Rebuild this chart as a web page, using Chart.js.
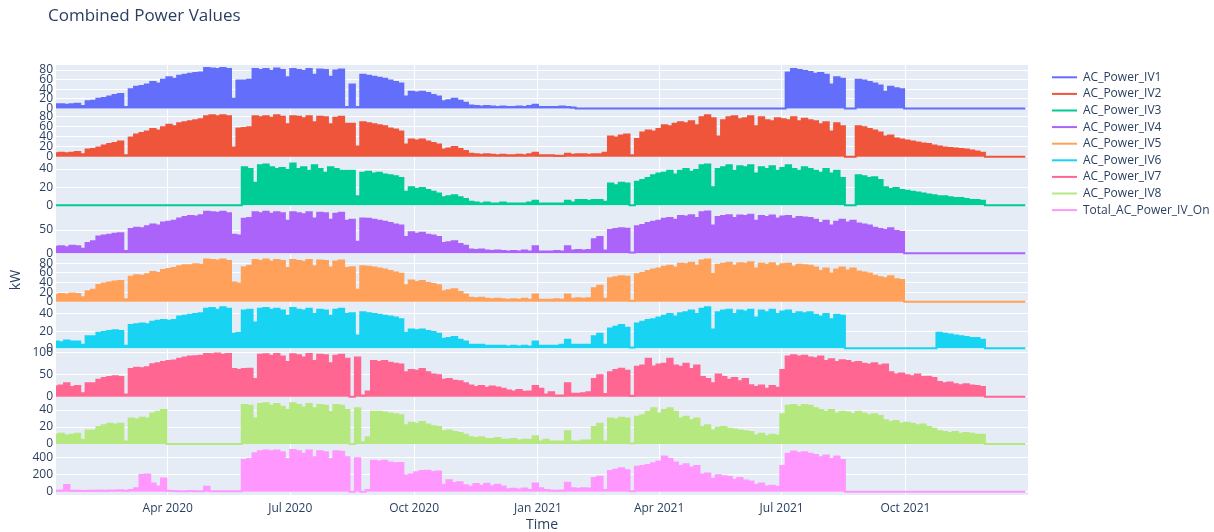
<!DOCTYPE html>
<html>
<head>
<meta charset="utf-8">
<script src="https://cdn.jsdelivr.net/npm/chart.js@4.4.1/dist/chart.umd.min.js"></script>
<style>
  html, body { margin: 0; padding: 0; background: #ffffff; }
  #wrap { width: 1214px; height: 532px; position: relative; }
</style>
</head>
<body>
<div id="wrap"><canvas id="c" width="1214" height="532"></canvas></div>
<script>
// Daily peak power readings, one sample every 4 days starting 2020-01-09
const startDate = Date.UTC(2020, 0, 9);
const stepDays = 4;

const seriesNames = [
  'AC_Power_IV1', 'AC_Power_IV2', 'AC_Power_IV3', 'AC_Power_IV4', 'AC_Power_IV5',
  'AC_Power_IV6', 'AC_Power_IV7', 'AC_Power_IV8', 'Total_AC_Power_IV_On'
];

const acPowerIV1 = [9,9,8,9,10,5,15,16,20,22,
25,28,30,3,40,45,47,50,55,52,
60,65,62,68,70,72,74,75,84,83,
82,84,82,20,58,58,60,82,80,82,
78,83,80,65,82,80,78,82,70,81,
80,66,79,81,3,50,3,70,68,66,
64,62,58,55,52,25,35,33,35,32,
28,25,15,17,20,16,12,6,5,4,
5,4,3,4,3,3,4,3,5,8,
3,3,3,3,4,3,2,0,0,0,
0,0,0,0,0,0,0,0,0,0,
0,0,0,0,0,0,0,0,0,0,
0,0,0,0,0,0,0,0,0,0,
0,0,0,0,0,0,75,82,80,78,
76,72,74,70,50,65,62,0,0,60,
58,55,52,48,35,45,42,40,0,0,
0,0,0,0,0,0,0,0,0,0,
0,0,0,0,0,0,0,0,0,0,
0];

const acPowerIV2 = [7,8,7,8,9,5,14,15,18,22,
25,27,30,3,38,44,47,50,55,52,
58,63,60,66,68,70,72,74,80,82,
80,82,80,18,56,57,58,80,78,80,
77,82,79,64,80,79,76,80,68,79,
78,64,77,79,65,65,20,68,66,64,
62,60,56,54,50,24,34,32,34,30,
27,24,14,16,19,15,11,6,5,4,
5,4,3,4,3,3,4,3,5,8,
3,3,3,2,2,6,4,5,5,4,
5,5,8,40,38,42,44,3,35,48,
52,50,55,62,60,65,68,66,70,62,
78,82,76,40,72,78,80,74,76,80,
60,78,72,70,76,74,72,78,70,75,
72,70,64,68,50,66,60,0,0,60,
58,55,52,48,40,42,36,34,32,30,
28,26,25,22,20,18,17,16,15,14,
12,10,8,0,0,0,0,0,0,0,
0];

const acPowerIV3 = [0,0,0,0,0,0,0,0,0,0,
0,0,0,0,0,0,0,0,0,0,
0,0,0,0,0,0,0,0,0,0,
0,0,0,0,0,42,40,25,44,45,
42,40,41,39,46,40,42,38,44,40,
36,42,40,38,38,38,10,36,37,35,
36,34,33,32,30,15,20,18,19,17,
15,13,9,10,11,9,7,4,3,2,
3,2,2,3,2,2,2,2,3,5,
2,2,2,2,2,5,3,6,6,5,
6,6,4,24,22,25,24,0,26,28,
30,33,35,36,38,34,38,40,37,39,
44,45,20,40,42,44,38,43,42,44,
35,42,40,43,38,41,44,40,38,42,
40,38,36,40,35,38,30,0,0,33,
32,30,31,28,20,18,19,17,16,15,
14,13,12,11,10,10,9,8,8,7,
6,6,5,0,0,0,0,0,0,0,
0];

const acPowerIV4 = [14,15,13,16,15,10,22,26,36,38,
40,42,43,5,52,55,54,58,62,60,
66,68,70,75,78,80,79,82,89,88,
87,89,86,40,38,74,76,88,86,89,
85,88,86,70,88,86,84,88,75,87,
86,72,85,87,70,72,25,75,74,72,
70,68,65,62,60,35,45,42,44,40,
38,35,22,24,26,20,16,8,7,8,
6,5,6,5,4,5,4,6,4,15,
4,4,4,5,4,15,6,7,6,7,
30,35,6,50,52,54,53,2,58,61,
65,68,70,74,76,72,80,79,82,76,
88,90,60,78,80,82,76,81,80,83,
70,80,78,81,75,79,80,74,78,77,
76,72,65,70,60,68,72,66,70,64,
62,60,55,52,50,54,48,46,0,0,
0,0,0,0,0,0,0,0,0,0,
0,0,0,0,0,0,0,0,0,0,
0];

const acPowerIV5 = [14,16,15,17,16,9,22,25,35,38,
40,42,43,5,52,55,54,57,62,60,
66,68,70,74,76,76,78,77,88,87,
86,88,85,40,38,72,75,87,85,88,
84,87,85,70,87,85,83,87,74,86,
85,71,84,86,70,72,25,74,73,71,
69,67,64,61,58,34,44,41,43,39,
37,34,22,24,26,20,15,8,7,8,
6,5,6,5,4,5,4,6,4,15,
4,4,4,5,4,15,6,7,6,7,
28,33,6,49,51,53,52,2,57,60,
64,67,69,73,75,71,79,78,81,75,
86,88,58,77,79,81,75,80,79,82,
69,79,77,80,74,78,79,73,77,76,
75,71,64,69,59,67,71,65,69,63,
61,59,54,51,49,53,47,45,0,0,
0,0,0,0,0,0,0,0,0,0,
0,0,0,0,0,0,0,0,0,0,
0];

const acPowerIV6 = [8,7,9,8,8,4,14,14,18,19,
20,21,20,3,27,28,29,28,31,32,
33,32,33,37,38,39,40,41,46,47,
45,48,46,17,18,44,45,30,46,47,
45,46,44,38,47,45,44,46,40,45,
44,38,45,46,40,41,15,42,41,40,
39,38,37,36,34,18,22,21,22,20,
19,17,11,12,13,10,8,4,4,4,
3,3,3,3,2,3,2,3,2,8,
3,3,3,3,4,10,4,4,4,4,
14,17,4,23,25,27,24,1,29,31,
33,34,36,38,40,37,41,42,44,40,
46,48,22,42,44,45,40,44,43,45,
36,44,42,45,40,43,44,40,42,41,
42,39,37,40,34,39,38,0,0,0,
0,0,0,0,0,0,0,0,0,0,
0,0,0,0,18,17,16,15,14,13,
12,12,10,0,0,0,0,0,0,0,
0];

const acPowerIV7 = [23,25,30,22,24,8,30,30,38,42,
44,46,44,5,62,65,64,66,73,75,
78,80,81,85,88,90,91,92,96,95,
97,94,96,62,60,62,63,40,94,95,
92,96,90,78,95,93,88,96,80,94,
93,75,92,94,85,0,88,3,12,80,
78,80,76,74,72,55,60,58,62,55,
50,48,38,40,36,35,30,25,22,24,
20,23,21,18,14,12,15,11,12,24,
18,5,10,3,3,30,7,7,8,10,
40,48,6,55,60,63,58,2,67,70,
85,68,72,74,85,70,67,74,62,70,
44,40,30,50,44,38,42,35,40,26,
22,25,18,24,20,60,90,93,90,92,
88,86,90,80,84,78,82,80,76,78,
74,72,75,70,72,55,50,52,48,46,
50,44,45,42,33,30,32,28,26,28,
25,24,22,0,0,0,0,0,0,0,
0];

const acPowerIV8 = [11,12,10,11,12,5,16,16,20,22,
24,23,24,3,30,29,31,30,36,38,
40,0,0,0,0,0,0,0,0,0,
0,0,0,0,0,46,45,30,47,48,
45,47,44,40,48,46,43,47,42,46,
45,38,46,45,40,0,42,2,8,38,
38,37,36,35,34,22,25,24,26,23,
21,20,15,16,14,13,11,8,7,8,
6,6,7,5,5,6,4,5,5,9,
3,5,3,3,3,15,3,3,4,4,
20,24,3,30,29,31,30,1,32,34,
38,42,36,40,42,38,30,32,28,30,
20,22,16,19,20,18,17,16,15,14,
10,12,9,11,10,35,45,46,44,46,
45,42,40,38,40,36,38,37,35,38,
36,34,35,33,28,26,27,24,25,24,
22,23,20,18,15,14,13,14,12,13,
12,11,11,0,0,0,0,0,0,0,
0];

const totalACPowerIVOn = [12,15,78,10,12,8,10,10,15,12,
14,15,18,10,20,40,194,200,97,60,
155,10,8,7,6,8,6,5,58,6,
7,6,5,6,5,369,380,447,470,480,
470,480,460,380,485,470,440,480,400,470,
460,380,470,465,400,0,388,0,20,360,
350,360,340,330,335,189,200,226,240,245,
230,235,80,132,100,110,75,57,90,70,
94,65,80,60,30,35,25,38,20,97,
39,20,15,12,14,105,39,35,40,38,
160,175,20,240,255,272,250,5,290,300,
310,330,350,408,380,340,300,320,280,300,
200,213,150,190,180,170,140,160,130,120,
80,97,60,70,58,300,440,466,450,460,
440,427,400,420,380,410,370,0,0,0,
0,0,0,0,0,0,0,0,0,0,
0,0,0,0,0,0,0,0,0,0,
0,0,0,0,0,0,0,0,0,0,
0];

// Quarter ticks on the shared time axis
const tickLabels = ['Apr 2020', 'Jul 2020', 'Oct 2020', 'Jan 2021', 'Apr 2021', 'Jul 2021', 'Oct 2021'];
const tickDates = [[2020, 3], [2020, 6], [2020, 9], [2021, 0], [2021, 3], [2021, 6], [2021, 9]];

// Value ticks per subplot row
const rowTickSteps = [20, 20, 20, 50, 20, 20, 50, 20, 200];

const seriesValues = [acPowerIV1, acPowerIV2, acPowerIV3, acPowerIV4, acPowerIV5,
                      acPowerIV6, acPowerIV7, acPowerIV8, totalACPowerIVOn];

// ---- styling / layout ----
const palette = ['#636EFA', '#EF553B', '#00CC96', '#AB63FA', '#FFA15A',
                 '#19D3F3', '#FF6692', '#B6E880', '#FF97FF'];
const rowRanges = [[-8.9, 90.4], [-7.7, 86.9], [-3.3, 49.3], [-6, 96.6], [-4.6, 95],
                   [-4, 51.8], [-6, 101], [-3.8, 52.5], [-38, 517]];
const DAY = 86400000;
const xMax = 722;
const fontFamily = '"Open Sans", "Liberation Sans", Arial, sans-serif';
const textColor = '#2a3f5f';

const tickDays = tickDates.map(([y, m]) => Math.round((Date.UTC(y, m, 1) - startDate) / DAY));

const datasets = seriesValues.map((vals, k) => ({
  label: seriesNames[k],
  data: vals.map((v, i) => ({ x: i * stepDays, y: v })),
  yAxisID: 'y' + k,
  borderColor: palette[k],
  backgroundColor: palette[k],
  borderWidth: 2,
  pointRadius: 0,
  pointHoverRadius: 0,
  stepped: 'middle',
  fill: 'origin'
}));

const scales = {
  x: {
    type: 'linear',
    position: 'bottom',
    min: 0,
    max: xMax,
    grid: { color: '#ffffff', lineWidth: 1, drawTicks: false },
    border: { display: false },
    ticks: {
      font: { family: fontFamily, size: 12 },
      color: textColor,
      padding: 6,
      maxRotation: 0,
      autoSkip: false,
      callback: (v) => {
        const idx = tickDays.indexOf(v);
        return idx >= 0 ? tickLabels[idx] : '';
      }
    },
    afterBuildTicks: (s) => { s.ticks = tickDays.map(v => ({ value: v })); },
    afterFit: (s) => { s.height = 37; }
  }
};

seriesValues.forEach((_, k) => {
  const [lo, hi] = rowRanges[k];
  const step = rowTickSteps[k];
  scales['y' + k] = {
    type: 'linear',
    position: 'left',
    stack: 'rows',
    stackWeight: 1,
    weight: 9 - k,
    min: lo,
    max: hi,
    grid: { color: '#ffffff', lineWidth: 1, drawTicks: false },
    border: { display: false },
    ticks: {
      font: { family: fontFamily, size: 12 },
      color: textColor,
      padding: 3,
      autoSkip: false
    },
    afterBuildTicks: (s) => {
      const t = [];
      for (let v = 0; v <= hi; v += step) t.push({ value: v });
      s.ticks = t;
    },
    afterFit: (s) => { s.width = 56; }
  };
});

// Plot background, titles and legend
const decorations = {
  id: 'decorations',
  beforeDraw(chart) {
    const { ctx, chartArea: a } = chart;
    ctx.save();
    ctx.fillStyle = '#E5ECF6';
    ctx.fillRect(a.left, a.top, a.right - a.left, a.bottom - a.top);
    ctx.restore();
  },
  afterDraw(chart) {
    const { ctx, chartArea: a } = chart;
    ctx.save();
    // title
    ctx.fillStyle = textColor;
    ctx.font = '17px ' + fontFamily;
    ctx.textAlign = 'left';
    ctx.textBaseline = 'middle';
    ctx.fillText('Combined Power Values', 48, 16);
    // axis titles
    ctx.font = '14px ' + fontFamily;
    ctx.textAlign = 'center';
    ctx.fillText('Time', (a.left + a.right) / 2, 525);
    ctx.save();
    ctx.translate(16, (a.top + a.bottom) / 2);
    ctx.rotate(-Math.PI / 2);
    ctx.fillText('kW', 0, 0);
    ctx.restore();
    // legend
    ctx.font = '12px ' + fontFamily;
    ctx.textAlign = 'left';
    chart.data.datasets.forEach((ds, k) => {
      const y = a.top + 12.3 + k * 16.6;
      ctx.strokeStyle = ds.borderColor;
      ctx.lineWidth = 2;
      ctx.beginPath();
      ctx.moveTo(a.right + 24, y);
      ctx.lineTo(a.right + 49, y);
      ctx.stroke();
      ctx.fillStyle = textColor;
      ctx.fillText(ds.label, a.right + 55, y);
    });
    ctx.restore();
  }
};

new Chart(document.getElementById('c'), {
  type: 'line',
  data: { datasets },
  options: {
    responsive: false,
    animation: false,
    devicePixelRatio: 1,
    layout: { padding: { top: 65, right: 186, bottom: 0, left: 0 } },
    scales,
    plugins: {
      legend: { display: false },
      title: { display: false },
      tooltip: { enabled: false }
    }
  },
  plugins: [decorations]
});
</script>
</body>
</html>
